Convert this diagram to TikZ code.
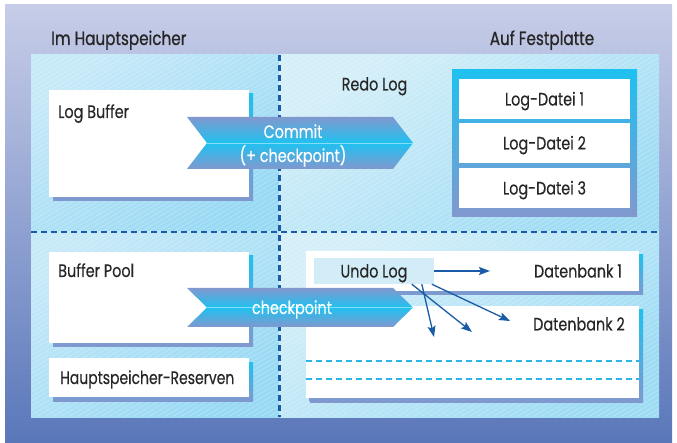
\documentclass[tikz,border=0pt]{standalone}
\usepackage{fontspec}
\setmainfont[FakeStretch=0.8,FakeBold=0.25]{Poppins}
\newfontfamily\headfont[FakeStretch=0.8,FakeBold=0.7]{Poppins}
\usetikzlibrary{calc,arrows.meta,shadows}

\definecolor{bgtop}{HTML}{C7CDE8}
\definecolor{bgbot}{HTML}{5A77BA}
\definecolor{cellLa}{HTML}{C6E9F8}
\definecolor{cellLb}{HTML}{98D9F4}
\definecolor{cellRa}{HTML}{D5EFF9}
\definecolor{cellRb}{HTML}{9EDCF4}
\definecolor{lav}{HTML}{8198CE}
\definecolor{cyanx}{HTML}{1EC1F0}
\definecolor{dashblue}{HTML}{1A5BA8}
\definecolor{undofill}{HTML}{D2EDF8}
\definecolor{txt}{HTML}{262626}
\definecolor{dbcyan}{HTML}{2BB4E6}

\tikzset{
  txtfont/.style={font=\fontsize{18}{20}\selectfont},
  lbl/.style={txtfont, text=txt, inner sep=0pt},
  headlbl/.style={font=\headfont\fontsize{19}{21}\selectfont, text=txt, inner sep=0pt},
  whitebox/.style={rectangle, fill=white, inner sep=0pt,
    general shadow={top color=cyanx, bottom color=lav, shadow xshift=4pt, shadow yshift=-4pt}},
  filebox/.style={rectangle, fill=white, inner sep=0pt, lbl, text height=13pt, text depth=0pt,
    minimum width=171pt, minimum height=40pt},
  divider/.style={dashblue, line width=2.4pt, dash pattern=on 6pt off 4pt},
  dbline/.style={draw=dbcyan, line width=1.2pt, dash pattern=on 6pt off 4pt},
  bigarrow/.style={top color=lav, bottom color=lav, middle color=cyanx},
  arrowlbl/.style={txtfont, text=white, inner sep=0pt},
  undoarrow/.style={dashblue, line width=1.3pt, -{Stealth[length=11pt,width=8pt,inset=2pt]}},
  cellL/.style={top color=cellLa, bottom color=cellLb, shading angle=35},
  cellR/.style={top color=cellRa, bottom color=cellRb, shading angle=35},
}

\begin{document}
\begin{tikzpicture}[x=1pt, y=-1pt]
\useasboundingbox (0,0) rectangle (677,443);

% outer frame
\shade[top color=bgtop, bottom color=bgbot] (5,5) rectangle (672,443);

% the four cells of the inner panel
\shade[cellL] (31,55) rectangle (279.5,232);
\shade[cellR] (279.5,55) rectangle (659,232);
\shade[cellL] (31,232) rectangle (279.5,417);
\shade[cellR] (279.5,232) rectangle (659,417);

% fine diagonal hatching over the panel
\begin{scope}
  \clip (31,55) rectangle (659,417);
  \foreach \i in {-700,-692,...,660}
    \draw[white, opacity=0.28, line width=0.6pt] (\i,417) -- ++(700,-404);
\end{scope}

% dividers
\coordinate (vtop) at (279.5,55);
\coordinate (vbot) at (279.5,417);
\coordinate (hl) at (31,232);
\coordinate (hr) at (659,232);
\draw[divider] (vtop) -- (vbot);
\draw[divider] (hl) -- (hr);

% headings
\node[headlbl, anchor=base west] (hmain) at (51,45) {Im Hauptspeicher};
\node[headlbl, anchor=base] (hdisk) at (542,45) {Auf Festplatte};

% main memory boxes
\node[whitebox, minimum width=200pt, minimum height=107pt] (logbuf) at (149,143.5) {};
\node[lbl, anchor=base west] (logbuftxt) at (58,118) {Log Buffer};

\node[whitebox, minimum width=200pt, minimum height=91pt] (bufpool) at (149,297.5) {};
\node[lbl, anchor=base west] (bufpooltxt) at (58,277) {Buffer Pool};

\node[whitebox, minimum width=200pt, minimum height=39pt] (reserve) at (149,377.5) {};
\node[lbl, anchor=base west, xscale=0.97] (reservetxt) at (60,384) {Hauptspeicher-Reserven};

% redo log files
\node[lbl, anchor=base] (redo) at (374.5,90.5) {Redo Log};
\node[rectangle, top color=cyanx, bottom color=lav, minimum width=185pt, minimum height=147pt] (frame) at (544.5,143.5) {};
\node[filebox] (ld1) at (544.5,99) {Log-Datei 1};
\node[filebox] (ld2) at (544.5,143) {Log-Datei 2};
\node[filebox] (ld3) at (544.5,188) {Log-Datei 3};

% databases
\node[whitebox, minimum width=333pt, minimum height=40pt, general shadow={top color=cyanx, bottom color=lav, shadow xshift=3.5pt, shadow yshift=-3.5pt}] (db1) at (472.5,271) {};
\node[whitebox, minimum width=333pt, minimum height=92pt, general shadow={top color=cyanx, bottom color=lav, shadow xshift=3.5pt, shadow yshift=-3.5pt}] (db2) at (472.5,352) {};
\node[lbl, text height=13pt, text depth=0pt] (db1txt) at (578,271) {Datenbank 1};
\node[lbl, text height=13pt, text depth=0pt] (db2txt) at (579,324) {Datenbank 2};
\draw[dbline] ($(db2.west)+(0,9)$) -- ($(db2.east)+(0,9)$);
\draw[dbline] ($(db2.west)+(0,27)$) -- ($(db2.east)+(0,27)$);

% commit arrow
\shade[bigarrow] (187,117) -- (393,117) -- (413,143) -- (393,169) -- (187,169) -- (207,143) -- cycle;
\draw[cyanx!55!white, line width=0.8pt] (207,143) -- (413,143);
\node[arrowlbl, anchor=base] (commit1) at (293,138) {Commit};
\node[arrowlbl, anchor=base] (commit2) at (293,162) {(+ checkpoint)};

% checkpoint arrow
\shade[bigarrow] (187,288) -- (393,288) -- (413,307.5) -- (393,327) -- (187,327) -- (207,307.5) -- cycle;
\draw[cyanx!55!white, line width=0.8pt] (207,307.5) -- (413,307.5);
\node[arrowlbl, anchor=base] (ckpt) at (292,314) {checkpoint};

% undo log and its references
\node[rectangle, fill=undofill, minimum width=120pt, minimum height=26pt, inner sep=0pt,
      txtfont, text=txt, text height=13pt, text depth=0pt] (undo) at (374,271) {Undo Log};
\coordinate (t1) at (490,271);
\coordinate (t2) at (510,321);
\coordinate (t3) at (472,332);
\coordinate (t4) at (434,337);
\draw[undoarrow] (undo.east) -- (t1);
\draw[undoarrow] ($(undo.south west)+(118,0)$) -- (t2);
\draw[undoarrow] ($(undo.south west)+(98,0)$) -- (t3);
\draw[undoarrow] ($(undo.south west)+(108,0)$) -- (t4);
\end{tikzpicture}
\end{document}
